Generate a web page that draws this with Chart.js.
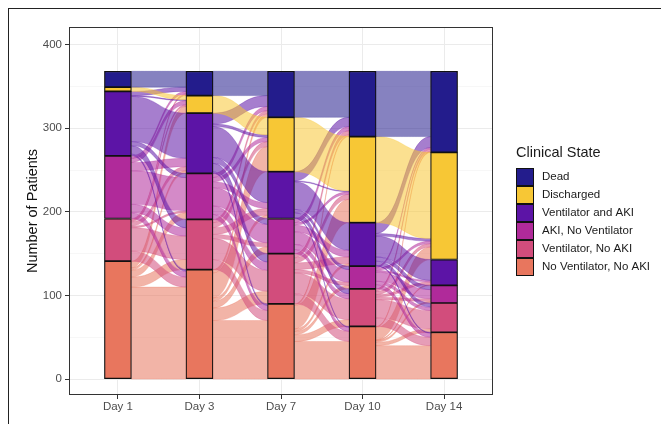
<!DOCTYPE html>
<html>
<head>
<meta charset="utf-8">
<script src="https://cdn.jsdelivr.net/npm/chart.js@4.4.1/dist/chart.umd.min.js"></script>
<style>
    html, body { margin: 0; padding: 0; background: #fff; }
    #wrap { position: relative; width: 661px; height: 424px; overflow: hidden; }
    #frame { position: absolute; left: 8px; top: 8px; width: 720px; height: 480px; border-left: 1.5px solid #222; border-top: 1.5px solid #222; }
    #c { position: absolute; left: 0; top: 0; }
</style>
</head>
<body>
<div id="wrap">
    <div id="frame"></div>
    <canvas id="c" width="661" height="424" style="width:661px;height:424px"></canvas>
</div>
<script>
// dias e estados (de baixo para cima na pilha)
const days = ['Day 1', 'Day 3', 'Day 7', 'Day 10', 'Day 14'];
const yTicks = [0, 50, 100, 150, 200, 250, 300, 350, 400];
const states = ['No Ventilator, No AKI', 'Ventilator, No AKI', 'AKI, No Ventilator', 'Ventilator and AKI', 'Discharged', 'Dead'];
const stateColors = ['#E8765E', '#D24D7C', '#B02A9A', '#5C14A6', '#F7C735', '#231C8C'];

// pacientes por estado em cada dia
const noVentNoAki = [141, 131, 90, 63, 56];
const ventNoAki = [51, 60, 60, 45, 35];
const akiNoVent = [75, 55, 42, 27, 21];
const ventAndAki = [77, 72, 56, 52, 31];
const discharged = [5, 21, 65, 103, 128];
const dead = [19, 29, 55, 78, 97];
const counts = [noVentNoAki, ventNoAki, akiNoVent, ventAndAki, discharged, dead];

// transições entre dias consecutivos: linha = estado de origem, coluna = estado de destino
const day1to3 = [
    [110, 12, 8, 3, 8, 0],
    [12, 28, 2, 5, 2, 2],
    [7, 10, 40, 10, 5, 3],
    [2, 10, 5, 54, 1, 5],
    [0, 0, 0, 0, 5, 0],
    [0, 0, 0, 0, 0, 19]
];
const day3to7 = [
    [70, 15, 8, 4, 30, 4],
    [12, 25, 5, 8, 6, 4],
    [6, 10, 22, 7, 5, 5],
    [2, 10, 7, 37, 3, 13],
    [0, 0, 0, 0, 21, 0],
    [0, 0, 0, 0, 0, 29]
];
const day7to10 = [
    [45, 8, 4, 3, 28, 2],
    [12, 25, 4, 8, 6, 5],
    [5, 6, 15, 8, 3, 5],
    [1, 6, 4, 33, 1, 11],
    [0, 0, 0, 0, 65, 0],
    [0, 0, 0, 0, 0, 55]
];
const day10to14 = [
    [40, 4, 2, 1, 15, 1],
    [10, 22, 3, 3, 4, 3],
    [5, 4, 11, 2, 3, 2],
    [1, 5, 5, 25, 3, 13],
    [0, 0, 0, 0, 103, 0],
    [0, 0, 0, 0, 0, 78]
];
const transitions = [day1to3, day3to7, day7to10, day10to14];

const BAR_W = 27;
const FONT = '"Liberation Sans", Arial, sans-serif';

function rgba(hex, a) {
    const n = parseInt(hex.slice(1), 16);
    return `rgba(${(n >> 16) & 255}, ${(n >> 8) & 255}, ${n & 255}, ${a})`;
}

// base acumulada de cada estado num dia
function stackBase(dayIdx) {
    const bases = [];
    let acc = 0;
    counts.forEach(serie => { bases.push(acc); acc += serie[dayIdx]; });
    return bases;
}

const flowPlugin = {
    id: 'flows',
    beforeDatasetsDraw(chart) {
        const { ctx, scales: { x, y } } = chart;
        ctx.save();
        transitions.forEach((m, d) => {
            const x0 = x.getPixelForValue(d + 1) + BAR_W / 2;
            const x1 = x.getPixelForValue(d + 2) - BAR_W / 2;
            const xm = (x0 + x1) / 2;
            const outOff = stackBase(d);
            const inOff = stackBase(d + 1);
            for (let i = 0; i < states.length; i++) {
                for (let j = 0; j < states.length; j++) {
                    const n = m[i][j];
                    if (!n) continue;
                    const yBL = y.getPixelForValue(outOff[i]);
                    const yTL = y.getPixelForValue(outOff[i] + n);
                    const yBR = y.getPixelForValue(inOff[j]);
                    const yTR = y.getPixelForValue(inOff[j] + n);
                    outOff[i] += n;
                    inOff[j] += n;

                    ctx.beginPath();
                    ctx.moveTo(x0, yTL);
                    ctx.bezierCurveTo(xm, yTL, xm, yTR, x1, yTR);
                    ctx.lineTo(x1, yBR);
                    ctx.bezierCurveTo(xm, yBR, xm, yBL, x0, yBL);
                    ctx.closePath();
                    ctx.fillStyle = rgba(stateColors[i], 0.55);
                    ctx.fill();
                    ctx.strokeStyle = rgba(stateColors[i], 0.35);
                    ctx.lineWidth = 0.8;
                    ctx.stroke();
                }
            }
        });
        ctx.restore();
    },
    afterDraw(chart) {
        const { ctx, chartArea: a } = chart;
        ctx.save();
        // borda do painel
        ctx.strokeStyle = '#333';
        ctx.lineWidth = 1;
        ctx.strokeRect(a.left + 0.5, a.top + 0.5, a.right - a.left - 1, a.bottom - a.top - 1);

        // legenda
        ctx.fillStyle = '#1a1a1a';
        ctx.font = `14.5px ${FONT}`;
        ctx.textBaseline = 'middle';
        ctx.textAlign = 'left';
        ctx.fillText('Clinical State', 516, 153);
        ctx.font = `11.5px ${FONT}`;
        const ordem = states.map((s, i) => i).reverse();
        ordem.forEach((idx, k) => {
            const top = 168 + k * 18;
            ctx.fillStyle = stateColors[idx];
            ctx.fillRect(516, top, 18, 18);
            ctx.strokeStyle = '#111';
            ctx.strokeRect(516.5, top + 0.5, 17, 17);
            ctx.fillStyle = '#1a1a1a';
            ctx.fillText(states[idx], 542, top + 9);
        });
        ctx.restore();
    }
};

Chart.defaults.font.family = FONT;

new Chart(document.getElementById('c'), {
    type: 'bar',
    data: {
        datasets: states.map((nome, i) => ({
            label: nome,
            data: counts[i].map((v, k) => ({ x: k + 1, y: v })),
            backgroundColor: stateColors[i],
            borderColor: '#111',
            borderWidth: 1.2,
            borderSkipped: false,
            barThickness: BAR_W
        }))
    },
    options: {
        responsive: false,
        animation: false,
        layout: { padding: { left: 24, top: 27, right: 168, bottom: 0 } },
        plugins: {
            legend: { display: false },
            tooltip: { enabled: false }
        },
        scales: {
            x: {
                type: 'linear',
                stacked: true,
                offset: false,
                min: 0.4,
                max: 5.6,
                afterBuildTicks: s => { s.ticks = days.map((_, i) => ({ value: i + 1 })); },
                afterFit: s => { s.height = 29; },
                ticks: {
                    callback: v => days[v - 1],
                    color: '#4D4D4D',
                    font: { size: 11.5 },
                    padding: 1,
                    maxRotation: 0,
                    autoSkip: false
                },
                grid: { offset: false, color: '#EBEBEB', tickColor: '#333', tickLength: 4 },
                border: { display: false }
            },
            y: {
                stacked: true,
                min: -19,
                max: 421,
                afterBuildTicks: s => { s.ticks = yTicks.map(v => ({ value: v })); },
                afterFit: s => { s.width = 45; },
                ticks: {
                    callback: v => (v % 100 === 0 ? v : ''),
                    color: '#4D4D4D',
                    font: { size: 11.5 },
                    padding: 3
                },
                grid: {
                    color: c => (c.tick && c.tick.value % 100 === 0 ? '#EBEBEB' : '#F4F4F4'),
                    lineWidth: c => (c.tick && c.tick.value % 100 === 0 ? 1 : 0.7),
                    tickColor: c => (c.tick && c.tick.value % 100 === 0 ? '#333' : 'rgba(0,0,0,0)'),
                    tickLength: 4
                },
                border: { display: false },
                title: {
                    display: true,
                    text: 'Number of Patients',
                    color: '#111',
                    font: { size: 14.5 },
                    padding: 0
                }
            }
        }
    },
    plugins: [flowPlugin]
});
</script>
</body>
</html>
